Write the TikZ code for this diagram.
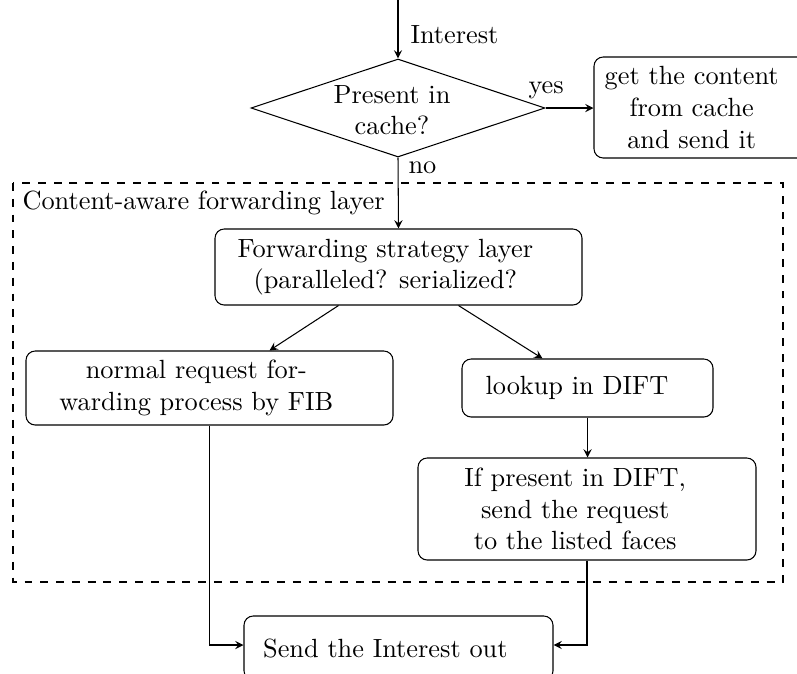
\documentclass[tikz,border=0pt]{standalone}
\usetikzlibrary{shapes.geometric,calc}
\newcommand\tsp[1]{\rule{#1}{0pt}}
\begin{document}
\begin{tikzpicture}[x=0.38pt,y=-0.38pt,
  box/.style={draw, rounded corners=3.5pt, align=center, inner sep=0pt},
  dim/.style 2 args={minimum width={#1*0.38pt}, minimum height={#2*0.38pt}},
  arr/.style={-stealth},
  lbl/.style={inner sep=0pt, anchor=base west}]
\clip (0,0) rectangle (797,673);
\coordinate (in) at (398,0);
\node[draw, diamond, inner sep=0pt, dim={294}{98}] (d) at (398,108) {};
\node[align=center, inner sep=0pt] (dt) at (392,110) {Present in\\cache?};
\node[box, dim={219}{101}] (c) at (703.5,107.5) {get the content\tsp{9pt}\\from cache\tsp{9pt}\\and send it\tsp{9pt}};
\draw[dashed] (13,183) rectangle (783,582);
\node[lbl] (lay) at (22,209) {Content-aware forwarding layer};
\node[box, dim={367}{76}] (s) at (398.5,267) {Forwarding strategy layer\tsp{10pt}\\(paralleled? serialized?\tsp{10pt}};
\node[box, dim={367}{74}] (n) at (209.5,388) {normal request for-\tsp{10pt}\\warding process by FIB\tsp{10pt}};
\node[box, dim={251}{58}] (l) at (587.5,388) {lookup in DIFT\tsp{8pt}};
\node[box, dim={338}{102}] (f) at (587,509) {If present in DIFT,\tsp{9pt}\\send the request\tsp{9pt}\\to the listed faces\tsp{9pt}};
\node[box, dim={309}{64}] (o) at (398.5,648) {Send the Interest out\tsp{10pt}};
\node[lbl] (lin) at (410,43) {Interest};
\node[lbl] (lyes) at (528,93) {yes};
\node[lbl] (lno) at (408,173) {no};
\draw[arr] (in) -- (d.north);
\draw[arr] (d.east) -- (c.west |- d.east);
\draw[arr] (d.south) -- (s.north);
\draw[arr] ($(s.south)+(-60,0)$) -- ($(n.north)+(60,0)$);
\draw[arr] ($(s.south)+(60,0)$) -- ($(l.north)+(-45,0)$);
\draw[arr] (l.south) -- (l.south |- f.north);
\draw[arr] (n.south) |- ($(o.west)+(0,-3)$);
\draw[arr] (f.south) |- ($(o.east)+(0,-3)$);
\end{tikzpicture}
\end{document}
